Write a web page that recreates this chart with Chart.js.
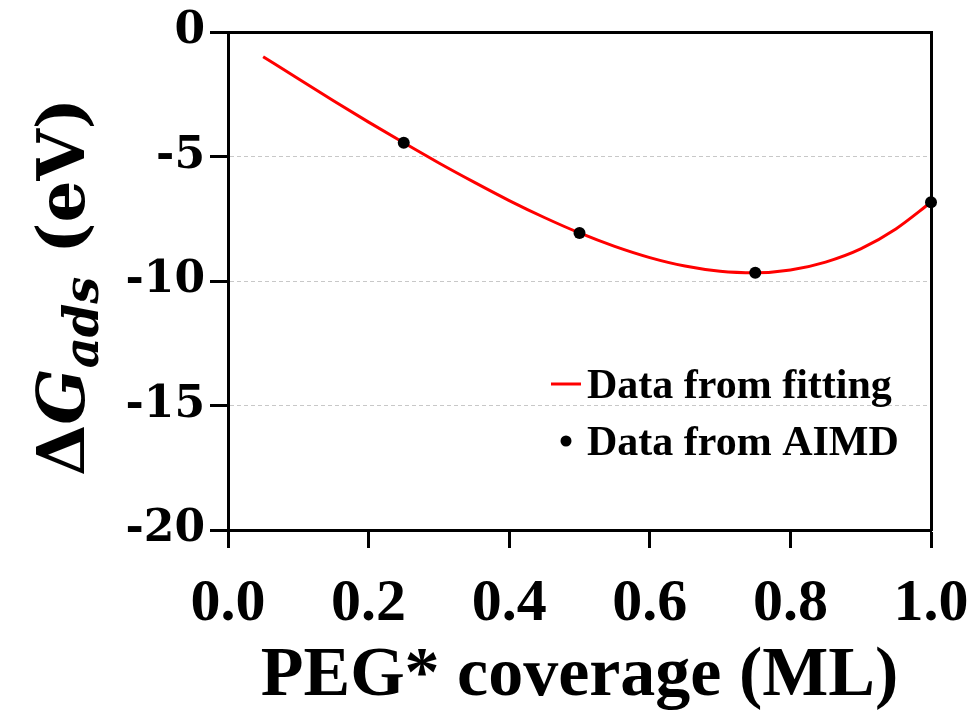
<!DOCTYPE html>
<html>
<head>
<meta charset="utf-8">
<script src="https://cdn.jsdelivr.net/npm/chart.js@4.4.1/dist/chart.umd.min.js"></script>
<style>
  html, body { margin: 0; padding: 0; background: #ffffff; }
  #wrap { width: 969px; height: 717px; position: relative; }
</style>
</head>
<body>
<div id="wrap"><canvas id="c"></canvas></div>
<script>
// ---- data ----
const fitCoverage = [0.05, 0.10, 0.15, 0.20, 0.25, 0.30, 0.35, 0.40, 0.45, 0.50,
                     0.55, 0.60, 0.65, 0.70, 0.75, 0.80, 0.85, 0.90, 0.95, 1.00];
const fitEnergy   = [-0.99, -1.88, -2.76, -3.62, -4.45, -5.26, -6.03, -6.77, -7.45, -8.07,
                     -8.61, -9.06, -9.40, -9.61, -9.67, -9.56, -9.24, -8.71, -7.91, -6.84];
const aimdCoverage = [0.25, 0.50, 0.75, 1.00];
const aimdEnergy   = [-4.45, -8.07, -9.67, -6.84];
const xTickValues = [0.0, 0.2, 0.4, 0.6, 0.8, 1.0];
const yTickValues = [0, -5, -10, -15, -20];
const seriesNames = ['Data from fitting', 'Data from AIMD'];
const xTitle = 'PEG* coverage (ML)';
const yTitleParts = ['\u0394', 'G', 'ads', ' (eV)'];

const SERIF_T = '"Liberation Serif", "Times New Roman", serif';
const SERIF_D = '"DejaVu Serif", serif';

const fitPoints = fitCoverage.map((x, i) => ({ x: x, y: fitEnergy[i] }));
const aimdPoints = aimdCoverage.map((x, i) => ({ x: x, y: aimdEnergy[i] }));

// rotated y-axis title with italic G and subscript "ads"
const yTitlePlugin = {
  id: 'yTitleRich',
  afterDraw(chart) {
    const { ctx, chartArea } = chart;
    const parts = [
      { t: yTitleParts[0], f: 'bold 66px ' + SERIF_D, dy: 0 },
      { t: yTitleParts[1], f: 'italic bold 66px ' + SERIF_D, dy: 0 },
      { t: yTitleParts[2], f: 'italic bold 48px ' + SERIF_D, dy: 14 },
      { t: yTitleParts[3], f: 'bold 66px ' + SERIF_D, dy: 0 }
    ];
    ctx.save();
    let total = 0;
    parts.forEach(p => { ctx.font = p.f; p.w = ctx.measureText(p.t).width; total += p.w; });
    const cy = (chartArea.top + chartArea.bottom) / 2 + 6;
    const bx = 84;
    ctx.translate(bx, cy);
    ctx.rotate(-Math.PI / 2);
    ctx.fillStyle = '#000';
    ctx.textBaseline = 'alphabetic';
    ctx.textAlign = 'left';
    let x = -total / 2;
    parts.forEach(p => { ctx.font = p.f; ctx.fillText(p.t, x, p.dy); x += p.w; });
    ctx.restore();
  }
};

// legend drawn inside the plot area
const insideLegend = {
  id: 'insideLegend',
  afterDraw(chart) {
    const { ctx, chartArea: a } = chart;
    const ds = chart.data.datasets;
    ctx.save();
    ctx.font = 'bold 42px ' + SERIF_T;
    ctx.textBaseline = 'alphabetic';
    ctx.textAlign = 'left';
    const tx = a.left + 359;
    const rows = [a.top + 366, a.top + 423];
    ctx.strokeStyle = ds[0].borderColor;
    ctx.lineWidth = 3;
    ctx.beginPath();
    ctx.moveTo(tx - 36, rows[0] - 14);
    ctx.lineTo(tx - 6, rows[0] - 14);
    ctx.stroke();
    ctx.fillStyle = '#000';
    ctx.fillText(ds[0].label, tx, rows[0]);
    ctx.beginPath();
    ctx.arc(tx - 21, rows[1] - 14, 5.5, 0, Math.PI * 2);
    ctx.fillStyle = ds[1].backgroundColor;
    ctx.fill();
    ctx.fillStyle = '#000';
    ctx.fillText(ds[1].label, tx, rows[1]);
    ctx.restore();
  }
};

new Chart(document.getElementById('c'), {
  type: 'scatter',
  data: {
    datasets: [
      {
        label: seriesNames[0],
        data: fitPoints,
        showLine: true,
        borderColor: '#ff0000',
        backgroundColor: '#ff0000',
        borderWidth: 3,
        pointRadius: 0,
        pointHoverRadius: 0,
        cubicInterpolationMode: 'monotone',
        xAxisID: 'x', yAxisID: 'y',
        order: 2
      },
      {
        label: seriesNames[1],
        data: aimdPoints,
        showLine: false,
        backgroundColor: '#000000',
        borderColor: '#000000',
        borderWidth: 0,
        pointRadius: 6,
        pointHoverRadius: 6,
        clip: false,
        xAxisID: 'x', yAxisID: 'y',
        order: 1
      }
    ]
  },
  options: {
    responsive: true,
    maintainAspectRatio: false,
    animation: false,
    devicePixelRatio: 1,
    layout: { padding: { top: 32, right: 38, left: 0, bottom: 0 } },
    plugins: {
      legend: { display: false },
      tooltip: { enabled: false },
      title: { display: false }
    },
    scales: {
      x: {
        type: 'linear', position: 'bottom', min: 0, max: 1,
        afterBuildTicks: s => { s.ticks = xTickValues.map(v => ({ value: v })); },
        afterFit: s => { s.height = 187; s.paddingRight = 0; s.paddingLeft = 0; },
        ticks: {
          callback: v => Number(v).toFixed(1),
          font: { family: SERIF_T, weight: 'bold', size: 60 },
          color: '#000', padding: 20, maxRotation: 0, autoSkip: false
        },
        grid: { drawOnChartArea: false, drawTicks: true, tickLength: 18, tickWidth: 3, tickColor: '#000', color: '#000' },
        border: { display: true, color: '#000', width: 3 },
        title: {
          display: true, text: xTitle, color: '#000',
          font: { family: SERIF_T, weight: 'bold', size: 70, lineHeight: 1 },
          padding: { top: 0, bottom: 5 }
        }
      },
      y: {
        type: 'linear', position: 'left', min: -20, max: 0,
        afterBuildTicks: s => { s.ticks = yTickValues.map(v => ({ value: v })); },
        afterFit: s => { s.width = 228; s.paddingTop = 0; s.paddingBottom = 0; },
        ticks: {
          font: { family: SERIF_D, weight: 'bold', size: 44 },
          color: '#000', padding: 5
        },
        grid: {
          color: c => (c.tick && (c.tick.value === 0 || c.tick.value === -20)) ? 'rgba(0,0,0,0)' : '#c8c8c8',
          lineWidth: 1, tickLength: 18, tickWidth: 3, tickColor: '#000'
        },
        border: { display: true, color: '#000', width: 3, dash: [4, 3] }
      },
      x2: {
        type: 'linear', position: 'top', min: 0, max: 1,
        ticks: { display: false }, grid: { display: false },
        border: { display: true, color: '#000', width: 3 },
        afterFit: s => { s.height = 0; s.paddingLeft = 0; s.paddingRight = 0; }
      },
      y2: {
        type: 'linear', position: 'right', min: -20, max: 0,
        ticks: { display: false }, grid: { display: false },
        border: { display: true, color: '#000', width: 3 },
        afterFit: s => { s.width = 0; s.paddingTop = 0; s.paddingBottom = 0; }
      }
    }
  },
  plugins: [yTitlePlugin, insideLegend]
});
</script>
</body>
</html>
